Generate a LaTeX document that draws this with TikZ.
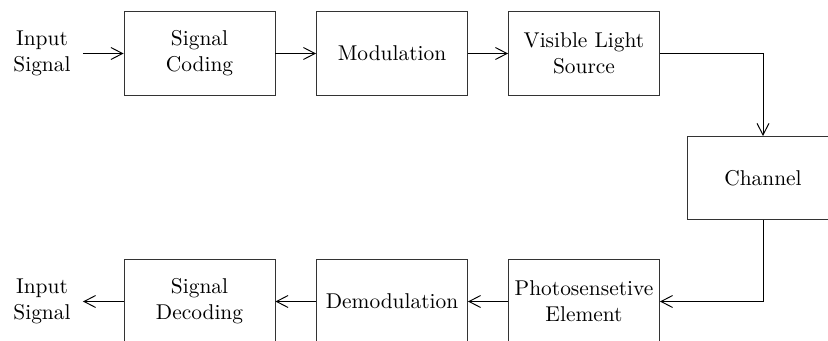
\documentclass[tikz,border=0pt]{standalone}
\usetikzlibrary{arrows.meta}
\begin{document}
\begin{tikzpicture}[x=0.467pt,y=-0.467pt,
  block/.style={draw=black!80,line width=0.45pt,minimum width=70.5pt,minimum height=38.8pt,align=center,inner sep=0pt},
  lbl/.style={align=center,inner sep=5.6pt},
  flow/.style={line width=0.45pt,-{Straight Barb[length=5.4pt,width=5.6pt,line width=0.45pt]}}]
\useasboundingbox (0,0) rectangle (828,341);
% top row
\node[lbl] (in) at (42,53.5) {Input\\Signal};
\node[block] (coding) at (199.5,53.5) {Signal\\Coding};
\node[block] (mod) at (392,53.5) {Modulation};
\node[block] (vls) at (584,53.5) {Visible Light\\Source};
% channel
\node[block] (chan) at (763,178) {Channel};
% bottom row
\node[block] (photo) at (584,301.5) {Photosensetive\\Element};
\node[block] (demod) at (392,301.5) {Demodulation};
\node[block] (decoding) at (199.5,301.5) {Signal\\Decoding};
\node[lbl] (out) at (42,301.5) {Input\\Signal};
% connectors
\draw[flow] (in.east) -- (coding.west);
\draw[flow] (coding.east) -- (mod.west);
\draw[flow] (mod.east) -- (vls.west);
\draw[flow] (vls.east) -| (chan.north);
\draw[flow] (chan.south) |- (photo.east);
\draw[flow] (photo.west) -- (demod.east);
\draw[flow] (demod.west) -- (decoding.east);
\draw[flow] (decoding.west) -- (out.east);
\end{tikzpicture}
\end{document}
